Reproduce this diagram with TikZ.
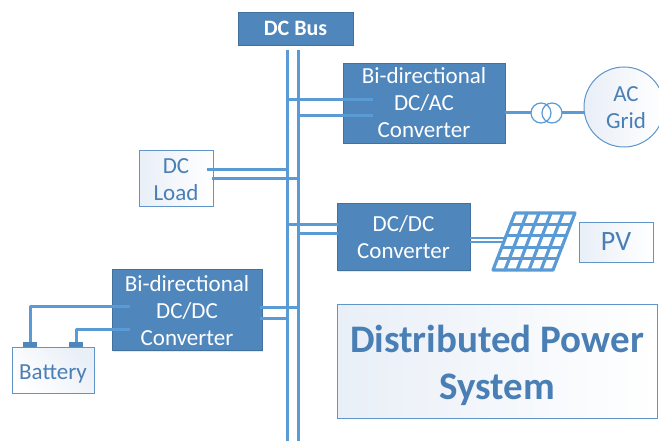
\documentclass[tikz,border=0pt]{standalone}
\usepackage{fontspec}
\setmainfont{Carlito}
\usetikzlibrary{shadows,calc}
\definecolor{boxblue}{HTML}{4F86BB}
\definecolor{boxedge}{HTML}{41719C}
\definecolor{wire}{HTML}{5B9BD5}
\definecolor{lightedge}{HTML}{5F95C9}
\definecolor{lightfill}{HTML}{E9EFF7}
\definecolor{labelblue}{HTML}{4A7FB5}
\newcommand{\topgap}[1]{\rule{0pt}{#1}}
\tikzset{
  darkbox/.style={draw=boxedge,line width=0.8pt,fill=boxblue,text=white,inner sep=0pt,outer sep=0pt,align=center,
    font=\fontsize{23}{27}\selectfont,drop shadow={shadow xshift=0.5pt,shadow yshift=-1.5pt,opacity=0.18,fill=boxblue}},
  lightbox/.style={draw=lightedge,line width=1pt,shading angle=135,left color=lightfill,middle color=white,right color=white,text=labelblue,inner sep=0pt,outer sep=0pt,align=center,
    font=\fontsize{23}{27}\selectfont},
  wireline/.style={draw=wire,line width=3pt},
  thinwire/.style={draw=wire,line width=2.2pt},
  terminal/.style={draw=none,fill=boxblue,inner sep=0pt,outer sep=0pt},
  xfmr/.style={circle,draw=wire,line width=1.2pt,minimum size=20pt,inner sep=0pt,outer sep=0pt},
}
\begin{document}
\begin{tikzpicture}[x=1pt,y=-1pt]
\useasboundingbox (0,0) rectangle (659,441);
% boxes
\node[darkbox,minimum width=115pt,minimum height=33pt,font=\fontsize{22}{26}\selectfont\bfseries] (bus) at (295.5,28.5) {DC Bus};
\node[darkbox,minimum width=162pt,minimum height=80pt] (dcac) at (424,103) {\topgap{16pt}Bi-directional\\DC/AC\\Converter};
\node[darkbox,minimum width=133pt,minimum height=67pt] (dcdc) at (403.5,236.5) {\topgap{18pt}DC/DC\\Converter};
\node[darkbox,minimum width=150pt,minimum height=81pt] (bidc) at (187,309.5) {\topgap{17.5pt}Bi-directional\\DC/DC\\Converter};
\node[lightbox,minimum width=74pt,minimum height=55pt] (load) at (176,178.5) {\topgap{17pt}DC\\Load};
\node[lightbox,minimum width=74pt,minimum height=40pt,font=\fontsize{28}{32}\selectfont] (pv) at (616,242) {PV};
\node[lightbox,shading angle=315,minimum width=82pt,minimum height=46pt] (batt) at (53,370) {\topgap{23pt}Battery};
\node[lightbox,minimum width=320pt,minimum height=114pt,font=\fontsize{39}{47}\selectfont\bfseries] (title) at (497,361) {\topgap{37pt}Distributed Power\\System};
\node[lightbox,circle,minimum size=80pt] (grid) at (624,107) {};
\node[text=labelblue,align=center,inner sep=0pt,font=\fontsize{23}{27}\selectfont] (gridlabel) at (626,108) {AC\\Grid};
% transformer
\node[xfmr] (t1) at (541,113) {};
\node[xfmr] (t2) at (552,113) {};
% battery terminals
\node[terminal,minimum width=14pt,minimum height=5pt] (tp) at (30,344.5) {};
\node[terminal,minimum width=14pt,minimum height=5pt] (tn) at (76,344.5) {};
% named line ends
\coordinate (busLtop) at (287,50);
\coordinate (busRtop) at (298,50);
\coordinate (busLbot) at (287,441);
\coordinate (busRbot) at (298,441);
\coordinate (acA) at (373,100);
\coordinate (acB) at (373,116);
\coordinate (loadA) at (207,170);
\coordinate (loadB) at (212,179);
\coordinate (dcA) at (338,224);
\coordinate (dcB) at (338,233);
\coordinate (biA) at (260,307);
\coordinate (biB) at (260,318);
\coordinate (battA) at (130,306);
\coordinate (battB) at (130,329);
\coordinate (panelA) at (505,238);
\coordinate (panelB) at (505,242);
% bus
\draw[wireline] (busLtop) -- (busLbot);
\draw[wireline] (busRtop) -- (busRbot);
% connectors
\draw[wireline] (busLtop |- acA) -- (acA);
\draw[wireline] (busRtop |- acB) -- (acB);
\draw[wireline] (loadA) -- (busLtop |- loadA);
\draw[wireline] (loadB) -- (busRtop |- loadB);
\draw[wireline] (busLtop |- dcA) -- (dcA);
\draw[wireline] (busRtop |- dcB) -- (dcB);
\draw[wireline] (biA) -- (busRtop |- biA);
\draw[wireline] (biB) -- (busLtop |- biB);
\draw[wireline,line join=round] (battA) -- (tp |- battA) -- (tp.north);
\draw[wireline,line join=round] (battB) -- (tn |- battB) -- (tn.north);
\draw[wireline] (dcac.east |- t1) -- (t1.west);
\draw[wireline] (t2.east) -- (grid.west |- t2);
\draw[thinwire] (dcdc.east |- panelA) -- (panelA);
\draw[thinwire] (dcdc.east |- panelB) -- (panelB);
% PV panel
\begin{scope}[line width=3.2pt,line join=round,line cap=round]
\coordinate (pTL) at (515,213);
\coordinate (pTR) at (575,213);
\coordinate (pBR) at (553,270);
\coordinate (pBL) at (493,270);
\draw[wire] (pTL) -- (pTR) -- (pBR) -- (pBL) -- cycle;
\foreach \f in {0.2,0.4,0.6,0.8}{
  \draw[wire] ($(pTL)!\f!(pTR)$) -- ($(pBL)!\f!(pBR)$);
  \draw[wire] ($(pTL)!\f!(pBL)$) -- ($(pTR)!\f!(pBR)$);
}
\end{scope}
\end{tikzpicture}
\end{document}
